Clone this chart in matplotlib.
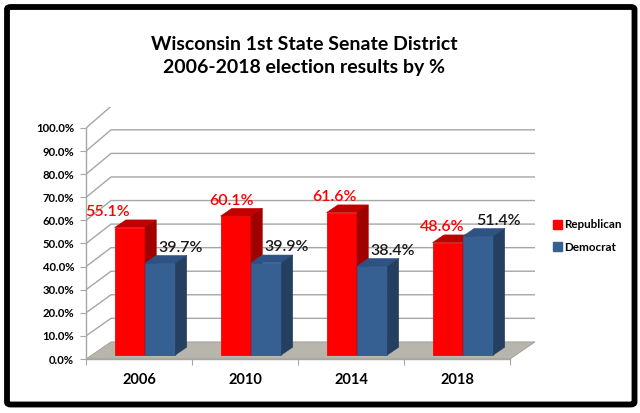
import matplotlib
matplotlib.use("Agg")
import matplotlib.pyplot as plt
from matplotlib.patches import Polygon, FancyBboxPatch, Patch

# ---- data ----
years = ["2006", "2010", "2014", "2018"]
republican = [55.1, 60.1, 61.6, 48.6]
democrat = [39.7, 39.9, 38.4, 51.4]
series_names = ["Republican", "Democrat"]
y_ticks = list(range(0, 101, 10))
title = "Wisconsin 1st State Senate District\n2006-2018 election results by %"

# ---- style ----
W, H = 640, 413
fig = plt.figure(figsize=(W / 100, H / 100), dpi=100)
fig.patch.set_facecolor("white")

font = "Lato"
colors = {
    "Republican": ("#FF0000", "#C00000", "#A00000"),  # front, top, side
    "Democrat": ("#376092", "#2E5283", "#243F60"),
}
label_colors = {"Republican": "#FF0000", "Democrat": "#1A1A1A"}
grid_c = "#A6A6A6"
floor_c = "#B8B5AD"

ncat = len(years)
DX = 0.236      # depth offset (category units)
DY = 7.4        # depth offset (percent units)
KB = 1.02       # back-wall vertical scale
F0, F1 = 0.24, 0.69  # bar depth range (fraction of full depth)
BW = 0.287

left_px, bottom_px = 86, 359
ux, uy = 106.0, 2.31
xmax, ymax = ncat + 0.25, 109.0
ax = fig.add_axes([left_px / W, (H - bottom_px) / H, xmax * ux / W, ymax * uy / H])
ax.set_xlim(0, xmax)
ax.set_ylim(0, ymax)
ax.set_facecolor("none")

# gridlines: side wall diagonal + back wall horizontal
for v in y_ticks[1:]:
    yb = v * KB + DY
    ax.plot([0, DX, ncat + DX], [v, yb, yb], color=grid_c, lw=1.0, zorder=1,
            solid_capstyle="butt")

# floor
ax.add_patch(Polygon([(0, 0), (ncat, 0), (ncat + DX, DY), (DX, DY)],
                     closed=True, facecolor=floor_c, edgecolor="#9E9B94",
                     lw=0.6, zorder=2))

# 3-D bars
values = {"Republican": republican, "Democrat": democrat}
xoffs = {"Republican": [-22, -4, -7, -6], "Democrat": [20, 20, 20, 20]}
z = 3
for i in range(ncat):
    for j, name in enumerate(series_names):
        v = values[name][i]
        front, top, side = colors[name]
        x0 = i + 0.5 - BW + j * BW + DX * F0
        x1 = x0 + BW
        y0 = DY * F0
        ddx = DX * (F1 - F0)
        ddy = DY * (F1 - F0)
        ax.bar(x0, v, width=BW, bottom=y0, align="edge", color=front,
               edgecolor=front if name == "Republican" else "#2F5A8C",
               lw=0.6, zorder=z)
        ax.add_patch(Polygon([(x0, y0 + v), (x1, y0 + v), (x1 + ddx, y0 + v + ddy),
                              (x0 + ddx, y0 + v + ddy)], closed=True,
                             facecolor=top, edgecolor=top, lw=0.4, zorder=z))
        ax.add_patch(Polygon([(x1, y0), (x1 + ddx, y0 + ddy), (x1 + ddx, y0 + v + ddy),
                              (x1, y0 + v)], closed=True,
                             facecolor=side, edgecolor=side, lw=0.4, zorder=z))
        ax.annotate(f"{v:.1f}%", xy=((x0 + x1) / 2, y0 + v), xytext=(xoffs[name][i] * 0.72, 11),
                    textcoords="offset points", ha="center", va="center",
                    fontsize=11.5, color=label_colors[name], family=font,
                    fontweight="semibold", zorder=10)
        z += 1

# axes styling
for s in ["top", "right"]:
    ax.spines[s].set_visible(False)
ax.spines["left"].set_bounds(0, 100)
ax.spines["bottom"].set_bounds(0, ncat)
for s in ["left", "bottom"]:
    ax.spines[s].set_color(grid_c)
    ax.spines[s].set_linewidth(1.0)
    ax.spines[s].set_zorder(2.5)

ax.set_yticks(y_ticks)
ax.set_yticklabels([f"{t:.1f}%" for t in y_ticks], fontsize=8.2, fontweight="bold",
                   family=font)
ax.tick_params(axis="y", length=4.5, color=grid_c, pad=4)

ax.set_xticks(range(ncat + 1))
ax.set_xticklabels([""] * (ncat + 1))
ax.tick_params(axis="x", which="major", length=4.5, color=grid_c)
ax.set_xticks([i + 0.5 for i in range(ncat)], minor=True)
ax.set_xticklabels(years, minor=True, fontsize=10.5, fontweight="bold", family=font)
ax.tick_params(axis="x", which="minor", length=0, pad=10)

# legend
handles = [Patch(facecolor=colors[n][0], edgecolor=colors[n][0]) for n in series_names]
fig.legend(handles, series_names, loc="center left", bbox_to_anchor=(551 / W, 1 - 236 / H),
           frameon=False, handlelength=0.75, handleheight=0.75, handletextpad=0.2,
           labelspacing=0.95, borderpad=0.2, borderaxespad=0.0,
           prop={"family": font, "weight": "bold", "size": 8.4})

# title
fig.text(304 / W, 1 - 56 / H, title, ha="center", va="center", fontsize=14,
         fontweight="bold", family=font, linespacing=1.45)

# outer border
fig.patches.append(FancyBboxPatch((7 / W, 1 - 404.5 / H), (634.5 - 7) / W, (404.5 - 7) / H,
                                  boxstyle="round,pad=0,rounding_size=0.006",
                                  transform=fig.transFigure, facecolor="none",
                                  edgecolor="black", lw=4.2, zorder=20))

fig.savefig("out.png", dpi=100)
